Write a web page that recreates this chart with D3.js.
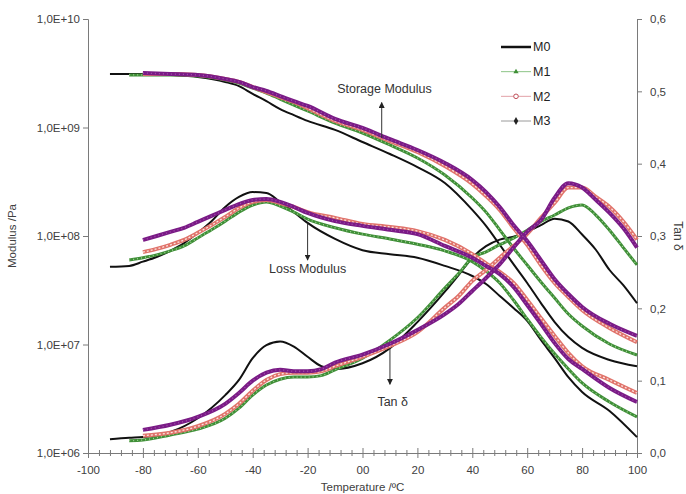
<!DOCTYPE html>
<html>
<head>
<meta charset="utf-8">
<title>DMA</title>
<script src="https://d3js.org/d3.v7.min.js"></script>
<style>
body { margin: 0; background: #fff; font-family: 'Liberation Sans', Arial, sans-serif; }
svg text { fill: #404040; }
.axis path, .axis line { stroke: #7a7a7a; }
</style>
</head>
<body>
<div id="chart"></div>
<script>

var width = 686;
var height = 494;

// series names
var names = ["M0", "M1", "M2", "M3"];

// storage modulus (Pa)
var storageT = [-92,-85,-80,-70,-60,-50,-45,-40,-35,-30,-25,-20,-10,0,10,20,30,40,45,50,55,60,65,70,75,80,90,100];
var storageM0 = [3.11e9,3.11e9,3.11e9,3.05e9,2.92e9,2.63e9,2.41e9,2.04e9,1.75e9,1.48e9,1.30e9,1.15e9,9.5e8,7.35e8,5.7e8,4.32e8,3.08e8,1.74e8,1.24e8,8.3e7,5.5e7,3.69e7,2.41e7,1.61e7,1.17e7,9.3e6,7.2e6,6.3e6];
var storageM1 = [null,3.05e9,3.05e9,3.05e9,2.98e9,2.74e9,2.57e9,2.31e9,2.08e9,1.83e9,1.61e9,1.42e9,1.10e9,8.9e8,6.9e8,5.24e8,3.65e8,2.24e8,1.66e8,1.14e8,7.75e7,5.4e7,3.77e7,2.68e7,1.91e7,1.48e7,1.01e7,8.0e6];
var storageM2 = [null,null,3.11e9,3.11e9,3.05e9,2.80e9,2.63e9,2.36e9,2.12e9,1.91e9,1.72e9,1.51e9,1.15e9,9.5e8,7.5e8,5.95e8,4.42e8,3.02e8,2.34e8,1.74e8,1.19e8,8.3e7,5.4e7,3.69e7,2.74e7,2.08e7,1.42e7,1.05e7];
var storageM3 = [null,null,3.18e9,3.11e9,3.05e9,2.80e9,2.63e9,2.36e9,2.17e9,1.95e9,1.75e9,1.58e9,1.20e9,9.9e8,7.8e8,6.2e8,4.71e8,3.28e8,2.54e8,1.85e8,1.26e8,9.0e7,6.0e7,4.0e7,2.92e7,2.22e7,1.55e7,1.20e7];

// loss modulus (Pa)
var lossT = [-92,-85,-80,-75,-70,-65,-60,-55,-50,-45,-40,-35,-30,-25,-20,-10,0,10,20,30,40,45,50,55,60,65,70,75,80,90,100];
var lossM0 = [5.2e7,5.3e7,5.8e7,6.4e7,7.3e7,8.6e7,1.07e8,1.37e8,1.85e8,2.29e8,2.54e8,2.49e8,2.06e8,1.66e8,1.32e8,9.4e7,7.4e7,6.8e7,6.3e7,5.3e7,4.28e7,3.61e7,2.80e7,2.17e7,1.65e7,1.10e7,7.5e6,5.0e6,3.65e6,2.44e6,1.40e6];
var lossM1 = [null,6.0e7,6.3e7,6.7e7,7.3e7,8.1e7,9.6e7,1.14e8,1.37e8,1.66e8,1.93e8,2.06e8,1.89e8,1.66e8,1.43e8,1.19e8,1.04e8,9.4e7,8.4e7,7.3e7,5.8e7,4.76e7,3.69e7,2.57e7,1.72e7,1.17e7,8.2e6,5.95e6,4.42e6,2.95e6,2.15e6];
var lossM2 = [null,null,7.1e7,7.6e7,8.3e7,9.2e7,1.07e8,1.26e8,1.50e8,1.81e8,2.06e8,2.15e8,2.01e8,1.85e8,1.66e8,1.47e8,1.29e8,1.21e8,1.11e8,9.2e7,6.8e7,5.6e7,4.66e7,3.69e7,2.57e7,1.75e7,1.20e7,8.35e6,6.3e6,4.71e6,3.57e6];
var lossM3 = [null,null,9.2e7,1.0e8,1.09e8,1.19e8,1.35e8,1.53e8,1.74e8,1.97e8,2.15e8,2.19e8,2.06e8,1.85e8,1.63e8,1.37e8,1.24e8,1.14e8,1.04e8,8.1e7,6.3e7,5.3e7,4.46e7,3.39e7,2.31e7,1.55e7,1.03e7,7.35e6,5.95e6,3.97e6,2.95e6];

// tan delta
var tanT = [-92,-85,-80,-70,-60,-50,-45,-40,-35,-30,-25,-20,-15,-10,0,10,20,30,35,40,45,50,55,60,65,70,75,80,85,90,95,100];
var tanM0 = [0.019,0.021,0.022,0.029,0.048,0.080,0.101,0.131,0.149,0.154,0.147,0.133,0.120,0.116,0.124,0.145,0.181,0.223,0.246,0.270,0.286,0.295,0.299,0.306,0.315,0.324,0.320,0.302,0.281,0.253,0.232,0.207];
var tanM1 = [null,0.017,0.018,0.025,0.033,0.048,0.062,0.080,0.094,0.102,0.105,0.105,0.107,0.115,0.131,0.156,0.187,0.228,0.248,0.270,0.278,0.288,0.297,0.308,0.320,0.329,0.339,0.343,0.329,0.308,0.284,0.260];
var tanM2 = [null,null,0.024,0.028,0.037,0.054,0.068,0.086,0.101,0.109,0.111,0.111,0.113,0.120,0.133,0.148,0.167,0.201,0.217,0.238,0.253,0.270,0.286,0.303,0.325,0.346,0.367,0.367,0.354,0.340,0.320,0.295];
var tanM3 = [null,null,0.032,0.039,0.050,0.068,0.083,0.100,0.111,0.115,0.113,0.113,0.116,0.125,0.136,0.151,0.170,0.192,0.206,0.224,0.242,0.261,0.284,0.306,0.322,0.353,0.373,0.367,0.350,0.332,0.311,0.284];

// axis ticks
var modTicks = [1e6, 1e7, 1e8, 1e9, 1e10];
var tanTicks = [0, 0.1, 0.2, 0.3, 0.4, 0.5, 0.6];
var tempTicks = [-100,-80,-60,-40,-20,0,20,40,60,80,100];

var styles = {
  M0: {color: "#111111", w: 2, over: null},
  M1: {color: "#3f8f37", w: 3, over: "#a6d49b", dash: "1,3"},
  M2: {color: "#e0736b", w: 4, over: "#fbe3df", dash: "2,2"},
  M3: {color: "#7a1b86", w: 4, over: "#a550ad", dash: "1,3"}
};

var svg = d3.select("#chart").append("svg")
  .attr("width", width)
  .attr("height", height);

var x = d3.scaleLinear().domain([-100, 100]).range([88, 637]);
var yMod = d3.scaleLog().domain([1e6, 1e10]).range([453, 19]);
var yTan = d3.scaleLinear().domain([0, 0.6]).range([453, 19]);

//axes
var leftAxis = svg.append("g").attr("class", "axis")
  .attr("transform", "translate(" + x(-100) + ",0)")
  .call(d3.axisLeft(yMod).tickValues(modTicks).tickSizeOuter(0).tickSize(5).tickPadding(3)
    .tickFormat(function(d) { return "1,0E+" + String(Math.round(Math.log10(d))).padStart(2, "0"); }));

var rightAxis = svg.append("g").attr("class", "axis")
  .attr("transform", "translate(" + x(100) + ",0)")
  .call(d3.axisRight(yTan).tickValues(tanTicks).tickSizeOuter(0).tickSize(5).tickPadding(8)
    .tickFormat(function(d) { return d.toFixed(1).replace(".", ","); }));

var minorTicks = d3.range(-96, 100, 4).filter(function(d) { return d % 20 !== 0; });
svg.append("g").attr("class", "axis")
  .attr("transform", "translate(0," + yTan(0) + ")")
  .call(d3.axisBottom(x).tickValues(minorTicks).tickFormat("").tickSizeOuter(0).tickSize(3))
  .selectAll(".tick line").attr("y1", -3);

var bottomAxis = svg.append("g").attr("class", "axis")
  .attr("transform", "translate(0," + yTan(0) + ")")
  .call(d3.axisBottom(x).tickValues(tempTicks).tickSizeOuter(0).tickSize(5).tickPadding(8)
    .tickFormat(function(d) { return d === 0 ? "00" : d; }));
bottomAxis.selectAll(".tick line").attr("y1", -5);

svg.selectAll(".axis text").style("font-size", "11.5px").style("fill", "#404040")
  .style("font-family", "'Liberation Sans', Arial, sans-serif");

// axis titles
svg.append("text")
  .attr("transform", "translate(16," + yMod(1e8) + ") rotate(-90)")
  .attr("text-anchor", "middle")
  .style("font-size", "11.5px")
  .text("Modulus /Pa");

svg.append("text")
  .attr("transform", "translate(674," + yMod(1e8) + ") rotate(90)")
  .attr("text-anchor", "middle")
  .style("font-size", "12px")
  .text("Tan δ");

svg.append("text")
  .attr("x", x(0))
  .attr("y", 491)
  .attr("text-anchor", "middle")
  .style("font-size", "11.5px")
  .text("Temperature /ºC");

// series
function pairs(t, v) {
  return t.map(function(d, i) { return {t: d, v: v[i]}; });
}

function drawSeries(t, v, yScale, name) {
  var st = styles[name];
  var line = d3.line()
    .defined(function(d) { return d.v !== null; })
    .x(function(d) { return x(d.t); })
    .y(function(d) { return yScale(d.v); })
    .curve(d3.curveMonotoneX);
  var data = pairs(t, v);
  svg.append("path").datum(data)
    .attr("d", line)
    .attr("fill", "none")
    .attr("stroke", st.color)
    .attr("stroke-width", st.w)
    .attr("stroke-linejoin", "round");
  if (st.over) {
    svg.append("path").datum(data)
      .attr("d", line)
      .attr("fill", "none")
      .attr("stroke", st.over)
      .attr("stroke-width", 1.3)
      .attr("stroke-dasharray", st.dash);
  }
}

var storage = {M0: storageM0, M1: storageM1, M2: storageM2, M3: storageM3};
var loss = {M0: lossM0, M1: lossM1, M2: lossM2, M3: lossM3};
var tan = {M0: tanM0, M1: tanM1, M2: tanM2, M3: tanM3};

names.forEach(function(n) {
  drawSeries(storageT, storage[n], yMod, n);
  drawSeries(lossT, loss[n], yMod, n);
  drawSeries(tanT, tan[n], yTan, n);
});

// legend
var legend = svg.append("g");
var legendY = d3.scalePoint().domain(names).range([47, 121]);
names.forEach(function(n) {
  var yy = legendY(n);
  var g = legend.append("g").attr("transform", "translate(501," + yy + ")");
  if (n === "M0") {
    g.append("line").attr("x1", 0).attr("x2", 30).attr("stroke", "#111").attr("stroke-width", 2.5);
  } else {
    var lc = {M1: "#8cc487", M2: "#e2a2a8", M3: "#9a9a9a"}[n];
    g.append("line").attr("x1", 0).attr("x2", 30).attr("stroke", lc).attr("stroke-width", 1);
    if (n === "M1") {
      g.append("path").attr("d", d3.symbol(d3.symbolTriangle, 12)()).attr("transform", "translate(15,0)")
        .attr("fill", "#3f8f37");
    } else if (n === "M2") {
      g.append("circle").attr("cx", 15).attr("r", 2.3).attr("fill", "#fff").attr("stroke", "#c0505a").attr("stroke-width", 1);
    } else {
      g.append("path").attr("d", d3.symbol(d3.symbolDiamond, 18)()).attr("transform", "translate(15,0)")
        .attr("fill", "#222");
    }
  }
  legend.append("text")
    .attr("x", 533)
    .attr("y", yy)
    .attr("dy", "0.35em")
    .style("font-size", "12.5px")
    .style("fill", "#222")
    .text(n);
});

// annotations
svg.append("defs").append("marker")
  .attr("id", "arrow")
  .attr("viewBox", "0 0 10 10")
  .attr("refX", 9).attr("refY", 5)
  .attr("markerWidth", 6).attr("markerHeight", 6)
  .attr("orient", "auto-start-reverse")
  .append("path").attr("d", "M0,0L10,5L0,10z").attr("fill", "#222");

function arrow(t, y1, y2) {
  svg.append("line")
    .attr("x1", x(t)).attr("x2", x(t))
    .attr("y1", y1).attr("y2", y2)
    .attr("stroke", "#333").attr("stroke-width", 1)
    .attr("marker-end", "url(#arrow)");
}
function label(t, y, txt) {
  svg.append("text")
    .attr("x", x(t)).attr("y", y)
    .attr("text-anchor", "middle")
    .attr("dy", "0.35em")
    .style("font-size", "12.5px")
    .style("fill", "#333")
    .text(txt);
}

arrow(7, yMod(8.0e8), yMod(1.7e9));
label(8, yMod(2.3e9), "Storage Modulus");

arrow(-20, yMod(1.3e8), yMod(6.0e7));
label(-20, yMod(5.0e7), "Loss Modulus");

arrow(10, yTan(0.145), yTan(0.095));
label(11, yTan(0.071), "Tan δ");

</script>
</body>
</html>
